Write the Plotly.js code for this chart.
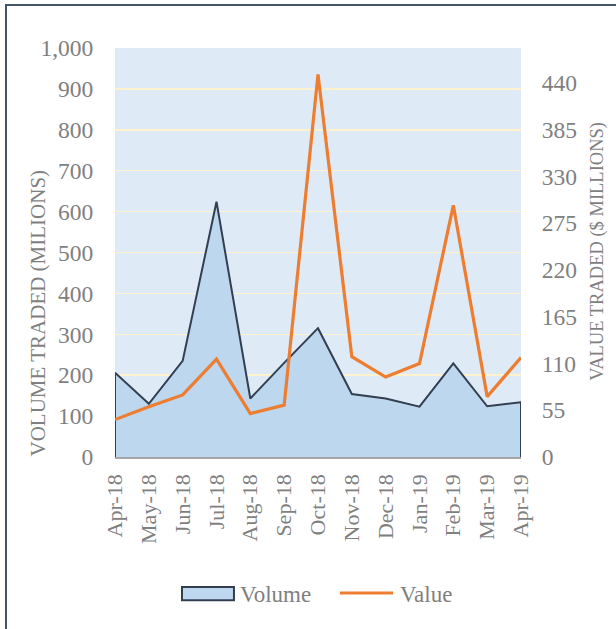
<!DOCTYPE html>
<html>
<head>
<meta charset="utf-8">
<script src="https://cdn.plot.ly/plotly-3.0.1.min.js"></script>
<style>
html,body{margin:0;padding:0;background:#fff;}
#chart{width:616px;height:629px;position:relative;}
#frame{position:absolute;left:5px;top:4px;width:700px;height:700px;border-top:2px solid #44546A;border-left:2px solid #44546A;pointer-events:none;}
</style>
</head>
<body>
<div id="chart"></div>
<div id="frame"></div>
<script>
const months = ["Apr-18","May-18","Jun-18","Jul-18","Aug-18","Sep-18","Oct-18","Nov-18","Dec-18","Jan-19","Feb-19","Mar-19","Apr-19"];
const volume = [206, 130, 235, 624, 143, 230, 315, 154, 143, 123, 229, 124, 134];
const value = [44, 59, 73, 115, 51, 61, 450, 118, 94, 110, 296, 71, 117];
const leftTicks = [0,100,200,300,400,500,600,700,800,900,1000];
const leftTickText = ["0","100","200","300","400","500","600","700","800","900","1,000"];
const rightTicks = [0,55,110,165,220,275,330,385,440];
const seriesNames = ["Volume", "Value"];

const font = "Liberation Serif, Times New Roman, serif";
const grey = "#7f7f7f";
const areaFill = "#BDD7EE";
const darkLine = "#333F50";
const orange = "#ED7D31";

const areaX = [months[0]].concat(months, [months[months.length-1]]);
const areaY = [0].concat(volume, [0]);

const traces = [
  {
    x: areaX, y: areaY, name: seriesNames[0], type: "scatter", mode: "lines",
    fill: "toself", fillcolor: areaFill,
    line: {color: darkLine, width: 2},
    hoverinfo: "skip", yaxis: "y", showlegend: false
  },
  {
    x: months, y: value, name: seriesNames[1], type: "scatter", mode: "lines",
    line: {color: orange, width: 3.2},
    hoverinfo: "skip", yaxis: "y2", showlegend: false
  }
];

const layout = {
  width: 616, height: 629,
  margin: {l: 115, r: 95, t: 48, b: 172},
  paper_bgcolor: "#ffffff",
  plot_bgcolor: "#DEEAF6",
  font: {family: font, color: grey, size: 22},
  showlegend: false,
  xaxis: {
    type: "category", range: [0, 12],
    tickangle: -90, ticks: "outside", ticklen: 7, tickcolor: "rgba(0,0,0,0)",
    showline: true, linecolor: "#A6A6A6", linewidth: 1.5,
    showgrid: false, zeroline: false,
    tickfont: {family: font, size: 22, color: grey},
    fixedrange: true
  },
  yaxis: {
    range: [0, 1000], tickvals: leftTicks, ticktext: leftTickText,
    ticks: "outside", ticklen: 16, tickcolor: "rgba(0,0,0,0)",
    showgrid: true, gridcolor: "#FFF2CC", gridwidth: 1.5,
    zeroline: false, showline: false,
    tickfont: {family: font, size: 23.5, color: grey},
    fixedrange: true
  },
  yaxis2: {
    overlaying: "y", side: "right",
    range: [0, 481], tickvals: rightTicks,
    ticks: "outside", ticklen: 15, tickcolor: "rgba(0,0,0,0)",
    showgrid: false, zeroline: false, showline: false,
    tickfont: {family: font, size: 23.5, color: grey},
    fixedrange: true
  },
  shapes: [
    {type: "rect", xref: "paper", yref: "paper", x0: 0.165, x1: 0.293, y0: -0.350, y1: -0.318,
     fillcolor: areaFill, line: {color: darkLine, width: 2}},
    {type: "line", xref: "paper", yref: "paper", x0: 0.554, x1: 0.685, y0: -0.3325, y1: -0.3325,
     line: {color: orange, width: 3.2}}
  ],
  annotations: [
    {
      text: "VOLUME TRADED (MILIONS)", xref: "paper", yref: "paper",
      x: -0.19, y: 0.353, xanchor: "center", yanchor: "middle",
      textangle: -90, showarrow: false,
      font: {family: font, size: 21, color: grey}
    },
    {
      text: "VALUE TRADED ($ MILLIONS)", xref: "paper", yref: "paper",
      x: 1.19, y: 0.502, xanchor: "center", yanchor: "middle",
      textangle: -90, showarrow: false,
      font: {family: font, size: 18.5, color: grey}
    },
    {
      text: seriesNames[0], xref: "paper", yref: "paper",
      x: 0.303, y: -0.335, xanchor: "left", yanchor: "middle",
      showarrow: false, font: {family: font, size: 23, color: grey}
    },
    {
      text: seriesNames[1], xref: "paper", yref: "paper",
      x: 0.697, y: -0.335, xanchor: "left", yanchor: "middle",
      showarrow: false, font: {family: font, size: 23, color: grey}
    }
  ]
};

Plotly.newPlot("chart", traces, layout, {displayModeBar: false, staticPlot: true});
</script>
</body>
</html>
